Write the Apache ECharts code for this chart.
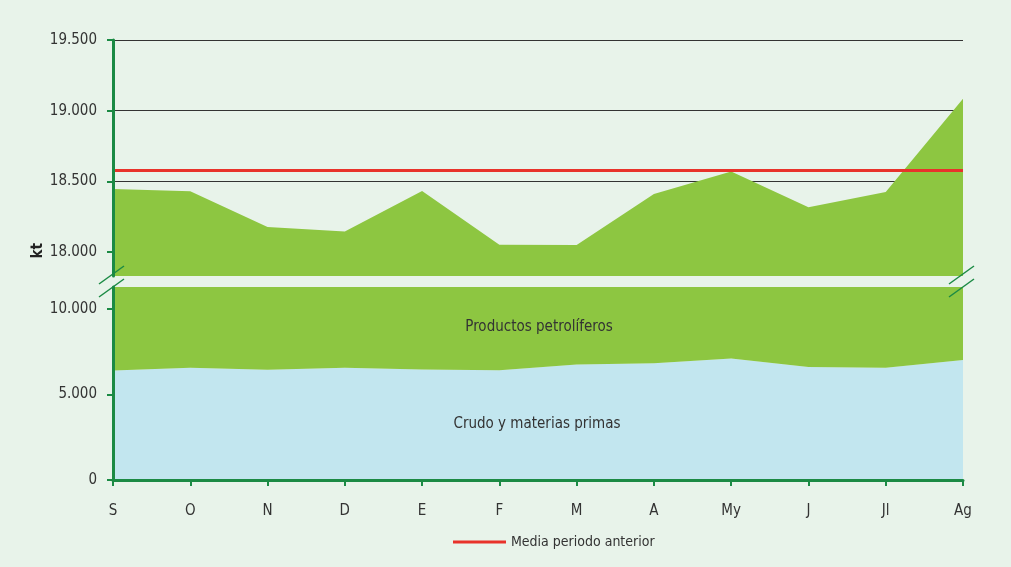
<!DOCTYPE html>
<html>
<head>
<meta charset="utf-8">
<script src="https://cdn.jsdelivr.net/npm/echarts@6/dist/echarts.min.js"></script>
<style>
  html, body { margin: 0; padding: 0; background: #e8f3ea; }
  #chart { width: 1011px; height: 567px; }
</style>
</head>
<body>
<div id="chart"></div>
<script>
// meses (sep - ago)
const months = ["S", "O", "N", "D", "E", "F", "M", "A", "My", "J", "Jl", "Ag"];
// total consumo (kt)
const totalKt = [18445, 18430, 18176, 18145, 18432, 18052, 18050, 18410, 18570, 18317, 18425, 19085];
// crudo y materias primas (kt)
const crudoKt = [6410, 6570, 6450, 6570, 6470, 6430, 6760, 6840, 7110, 6620, 6570, 7020];
// media del periodo anterior
const mediaAnterior = 18575;
const upperTicks = [18000, 18500, 19000, 19500];
const lowerTicks = [0, 5000, 10000];

const productosKt = totalKt.map((t, i) => t - crudoKt[i]);

const FONT = "'Liberation Sans Narrow', 'DejaVu Sans Condensed', sans-serif";
const GREEN_AXIS = "#1b8a44";
const GREEN_AREA = "#8dc641";
const BLUE_AREA = "#c2e6ef";
const RED = "#e8322b";

const fmt = v => String(v).replace(/\B(?=(\d{3})+(?!\d))/g, ".");

const chart = echarts.init(document.getElementById("chart"));

const breakLine = (x1, y1, x2, y2) => ({
  type: "line",
  shape: { x1, y1, x2, y2 },
  style: { stroke: GREEN_AXIS, lineWidth: 1.5 },
  z: 100
});

const upperRange = { min: 17830, max: 19500 };

chart.setOption({
  backgroundColor: "#e8f3ea",
  animation: false,
  textStyle: { fontFamily: FONT },
  grid: [
    { left: 113, right: 48, top: 40, height: 236 },
    { left: 113, right: 48, top: 287, height: 193 }
  ],
  legend: {
    data: ["Media periodo anterior"],
    left: 448,
    top: 530,
    icon: "rect",
    itemWidth: 53,
    itemHeight: 3,
    textStyle: { fontFamily: FONT, fontSize: 14, color: "#333" }
  },
  xAxis: [
    {
      gridIndex: 0, type: "category", data: months, boundaryGap: false,
      show: false
    },
    {
      gridIndex: 1, type: "category", data: months, boundaryGap: false, z: 10,
      axisLine: { lineStyle: { color: GREEN_AXIS, width: 3 } },
      axisTick: { alignWithLabel: true, length: 6, lineStyle: { color: GREEN_AXIS, width: 2 } },
      axisLabel: { margin: 24, fontSize: 15, color: "#333", fontFamily: FONT }
    }
  ],
  yAxis: [
    // rejilla, por debajo del área
    {
      gridIndex: 0, type: "value", ...upperRange, position: "left", z: 0,
      axisLine: { show: false },
      axisTick: { show: false, customValues: upperTicks },
      axisLabel: { show: false, customValues: upperTicks },
      splitLine: { show: true, lineStyle: { color: "#333", width: 1 } }
    },
    {
      gridIndex: 1, type: "value", min: 0, max: 11300, z: 10,
      axisLine: { show: true, lineStyle: { color: GREEN_AXIS, width: 3 } },
      axisTick: { show: true, length: 6, customValues: lowerTicks, lineStyle: { color: GREEN_AXIS, width: 2 } },
      axisLabel: { customValues: lowerTicks, formatter: fmt, fontSize: 15, color: "#333", margin: 16, fontFamily: FONT },
      splitLine: { show: false }
    },
    // eje superior visible, por encima del área
    {
      gridIndex: 0, type: "value", ...upperRange, position: "left", offset: 0, z: 10,
      axisLine: { show: true, lineStyle: { color: GREEN_AXIS, width: 3 } },
      axisTick: { show: true, length: 6, customValues: upperTicks, lineStyle: { color: GREEN_AXIS, width: 2 } },
      axisLabel: { customValues: upperTicks, formatter: fmt, fontSize: 15, color: "#333", margin: 16, fontFamily: FONT },
      splitLine: { show: false }
    }
  ],
  series: [
    {
      name: "Total",
      type: "line",
      xAxisIndex: 0, yAxisIndex: 0,
      data: totalKt,
      symbol: "none",
      lineStyle: { width: 0 },
      areaStyle: { color: GREEN_AREA, opacity: 1, origin: "start" },
      z: 2
    },
    {
      name: "Media periodo anterior",
      type: "line",
      xAxisIndex: 0, yAxisIndex: 0,
      data: [],
      color: RED,
      lineStyle: { color: RED, width: 3 },
      markLine: {
        silent: true,
        symbol: "none",
        label: { show: false },
        lineStyle: { color: RED, width: 3, type: "solid" },
        data: [{ yAxis: mediaAnterior }]
      },
      z: 5
    },
    {
      name: "Crudo y materias primas",
      type: "line",
      xAxisIndex: 1, yAxisIndex: 1,
      stack: "consumo",
      data: crudoKt,
      symbol: "none",
      lineStyle: { width: 0 },
      areaStyle: { color: BLUE_AREA, opacity: 1 }
    },
    {
      name: "Productos petrolíferos",
      type: "line",
      xAxisIndex: 1, yAxisIndex: 1,
      stack: "consumo",
      data: productosKt,
      symbol: "none",
      lineStyle: { width: 0 },
      areaStyle: { color: GREEN_AREA, opacity: 1 }
    }
  ],
  graphic: [
    // corte del eje
    breakLine(99, 284, 124, 266),
    breakLine(99, 297, 124, 279),
    breakLine(949, 284, 974, 266),
    breakLine(949, 297, 974, 279),
    {
      type: "text", left: 31, top: 243, rotation: Math.PI / 2,
      style: { text: "kt", fontFamily: FONT, fontWeight: "bold", fontSize: 15, fill: "#222" },
      z: 100
    },
    {
      type: "text", x: 539, y: 327,
      style: { text: "Productos petrolíferos", fontFamily: FONT, fontSize: 15, fill: "#333", align: "center", verticalAlign: "middle" },
      z: 100
    },
    {
      type: "text", x: 537, y: 424,
      style: { text: "Crudo y materias primas", fontFamily: FONT, fontSize: 15, fill: "#333", align: "center", verticalAlign: "middle" },
      z: 100
    }
  ]
});
</script>
</body>
</html>
